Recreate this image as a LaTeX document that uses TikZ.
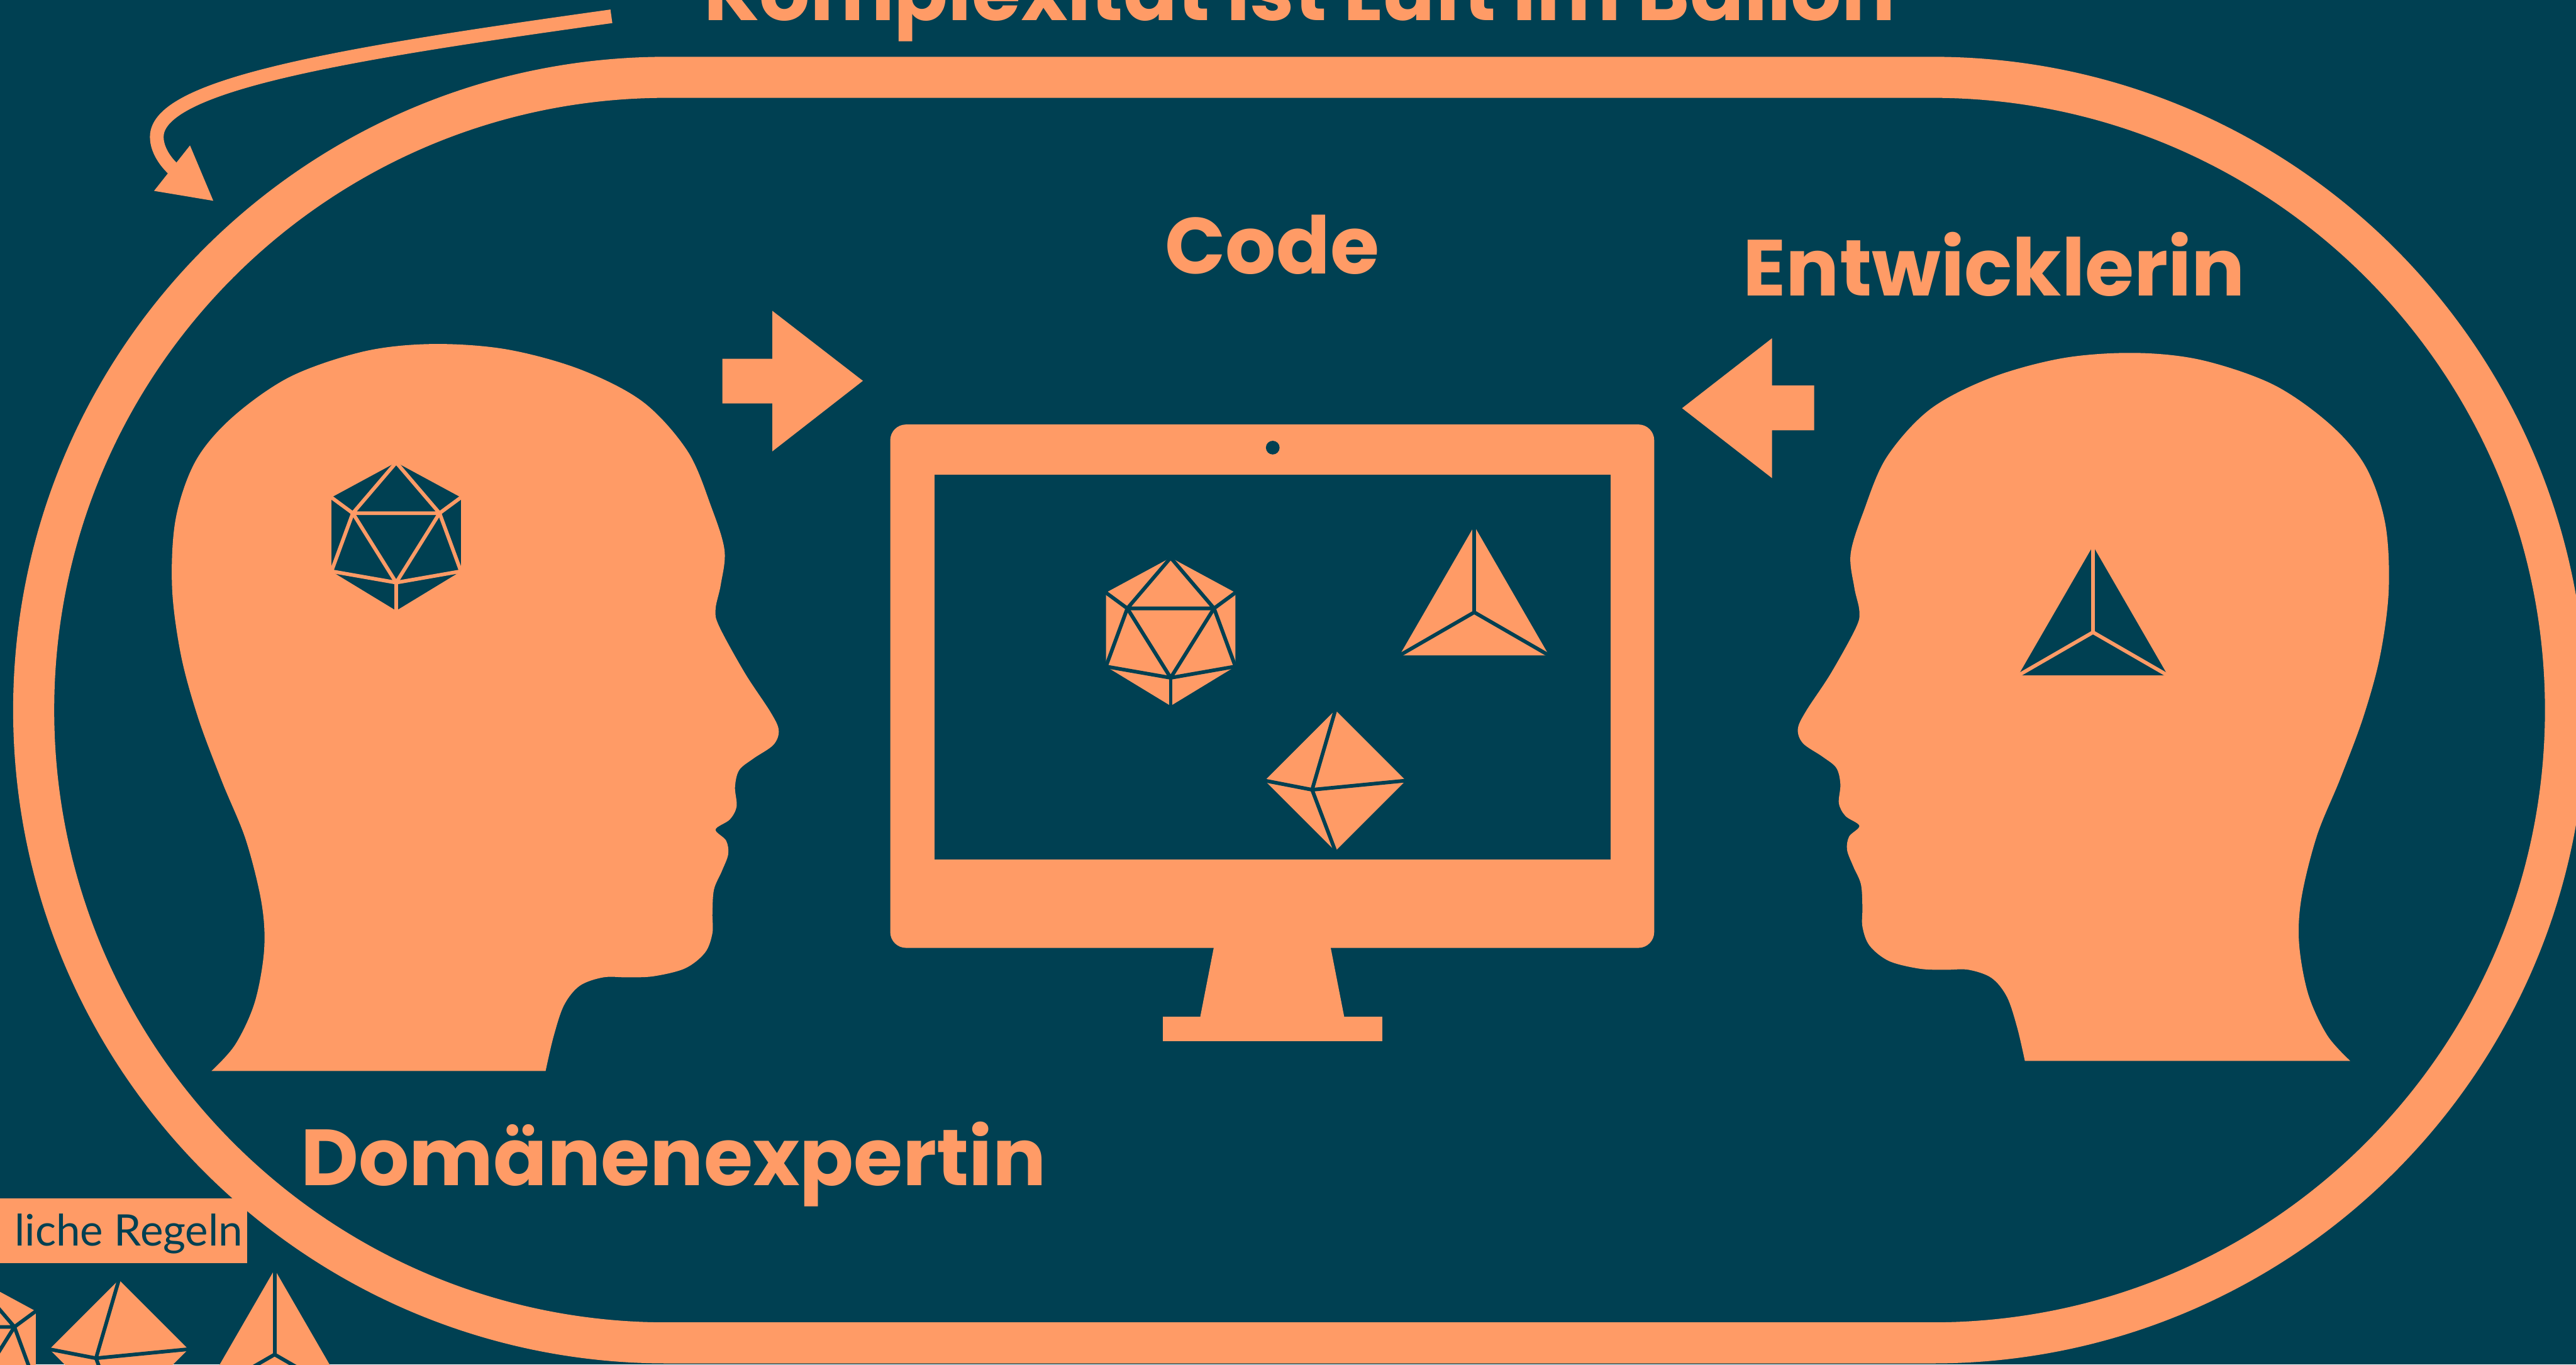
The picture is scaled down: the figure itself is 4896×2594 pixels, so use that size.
\documentclass[tikz,border=0pt]{standalone}
\usepackage{fontspec}
\setmainfont{Poppins}
\newfontfamily\tagfont{Lato}
\usepackage{tikz}
\usetikzlibrary{arrows.meta}
\definecolor{petrol}{RGB}{0,64,82}
\definecolor{apricot}{RGB}{255,155,102}
\tikzstyle{balloon} = [draw=apricot, line width=0.78cm]
\tikzstyle{swoop} = [draw=apricot, line width=0.26cm, -{Triangle[length=1.02cm, width=1.02cm]}]
\tikzstyle{facet} = [line width=0.07cm, line cap=round, line join=round]
\tikzstyle{bigtext} = [text=apricot, inner sep=0pt, font=\bfseries\fontsize{43}{52}\selectfont]
\tikzstyle{tagtext} = [text=petrol, inner sep=0pt, font=\tagfont\fontsize{23.5}{28}\selectfont]
\tikzset{
	pics/icosa/.style 2 args = {code = {
		\fill [#1] (0,-1.145) -- (1,-0.604) -- (1,0.537) -- (0,1.145) -- (-1,0.537) -- (-1,-0.604) -- cycle;
		\draw [facet, #2] (0,-1.145) -- (-0.67,-0.361) -- (0.67,-0.361) -- cycle;
		\draw [facet, #2] (-1,-0.604) -- (-0.67,-0.361) -- (-1,0.537) -- (0,0.712) -- (1,0.537) -- (0.67,-0.361) -- (1,-0.604);
		\draw [facet, #2] (-0.67,-0.361) -- (0,0.712) -- (0.67,-0.361);
		\draw [facet, #2] (0,0.712) -- (0,1.145);
	}},
	pics/octa/.style 2 args = {code = {
		\fill [#1] (0,-1) -- (1,0) -- (0,1) -- (-1,0) -- cycle;
		\draw [facet, #2] (0,-1) -- (-0.33,0.13) -- (0,1);
		\draw [facet, #2] (-1,0) -- (-0.33,0.13) -- (1,0);
	}},
	pics/tetra/.style 2 args = {code = {
		\fill [#1] (0,-1.155) -- (1,0.577) -- (-1,0.577) -- cycle;
		\draw [facet, #2] (0,0) -- (0,-1.155);
		\draw [facet, #2] (0,0) -- (1,0.577);
		\draw [facet, #2] (0,0) -- (-1,0.577);
	}},
	pics/head/.style = {code = {
		\fill [apricot] plot [smooth, tension=0.55] coordinates {(0,0) (45,-50) (82,-130) (100,-230) (95,-320) (65,-440) (20,-550) (-25,-670) (-58,-790) (-75,-920) (-68,-1050) (-30,-1160) (40,-1243) (150,-1320) (290,-1368) (420,-1382) (560,-1372) (700,-1334) (820,-1272) (905,-1178) (950,-1072) (975,-990) (968,-925) (958,-878) (965,-845) (1014,-756) (1062,-683) (1078,-648) (1068,-620) (1030,-594) (1003,-572) (995,-540) (998,-503) (985,-478) (958,-459) (978,-438) (982,-412) (970,-380) (955,-345) (952,-300) (952,-262) (938,-225) (900,-195) (840,-180) (790,-178) (745,-178) (700,-162) (670,-125) (650,-65) (635,0)} -- cycle;
	}},
}
\begin{document}
\begin{tikzpicture}[x=0.01cm, y=-0.01cm]
	\clip (0,0) rectangle (4896,2594);
	\fill [petrol] (0,0) rectangle (4896,2594);

	\draw [balloon] (1267,147) -- (3673,147) arc [start angle=-90, end angle=90, radius=1203] -- (1267,2553) arc [start angle=90, end angle=270, radius=1203] -- cycle;

	\coordinate (from) at (1162,31);
	\coordinate (into) at (407,383);
	\draw [swoop] (from) .. controls (662,101) and (298,160) .. (298,260) .. controls (298,300) and (340,330) .. (into);

	\pic at (402,2036) {head};
	\pic [xscale=-0.974, yscale=0.974] at (4467,2017) {head};
	\pic [scale=123] at (753,1020) {icosa={petrol}{apricot}};
	\pic [scale=142] at (3978,1202) {tetra={petrol}{apricot}};

	\fill [apricot, rounded corners=0.3cm] (1692,807) rectangle (3144,1802);
	\fill [petrol] (1776,902) rectangle (3061,1634);
	\fill [petrol] (2419,851) circle [radius=13];
	\fill [apricot] (2307,1801) -- (2529,1801) -- (2555,1934) -- (2281,1934) -- cycle;
	\fill [apricot] (2210,1933) rectangle (2627,1979);
	\pic [scale=123] at (2225,1201) {icosa={apricot}{petrol}};
	\pic [scale=142] at (2802,1164) {tetra={apricot}{petrol}};
	\pic [scale=134] at (2538,1484) {octa={apricot}{petrol}};

	\fill [apricot] (1373,682) -- (1468,682) -- (1468,591) -- (1640,724) -- (1468,858) -- (1468,767) -- (1373,767) -- cycle;
	\fill [apricot] (3448,733) -- (3368,733) -- (3368,643) -- (3197,776) -- (3368,909) -- (3368,818) -- (3448,818) -- cycle;

	\node [bigtext, anchor=base] (title) at (2470,39) {Komplexität ist Luft im Ballon};
	\node [bigtext, anchor=base] (code) at (2418,521) {Code};
	\node [bigtext, anchor=base] (dev) at (3790,562) {Entwicklerin};
	\node [bigtext, anchor=base] (expert) at (1280,2254) {Domänenexpertin};

	\fill [apricot] (-10,2278) rectangle (470,2401);
	\node [tagtext, anchor=base west] (rules) at (27,2369) {liche Regeln};

	\pic [scale=123] at (-55,2567) {icosa={apricot}{petrol}};
	\pic [scale=132] at (226,2565) {octa={apricot}{petrol}};
	\pic [scale=140] at (522,2575) {tetra={apricot}{petrol}};
\end{tikzpicture}
\end{document}
